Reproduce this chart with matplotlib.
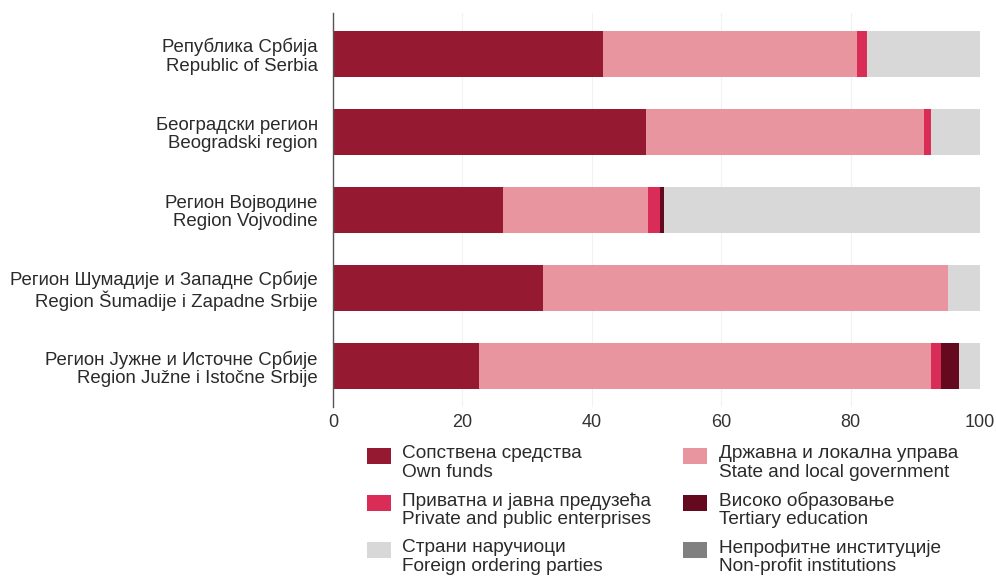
import matplotlib
matplotlib.use("Agg")
import matplotlib.pyplot as plt
from matplotlib.patches import Rectangle
import numpy as np

plt.rcParams['font.family'] = ['Liberation Sans', 'DejaVu Sans']

regions = [
    "Република Србија\nRepublic of Serbia",
    "Београдски регион\nBeogradski region",
    "Регион Војводине\nRegion Vojvodine",
    "Регион Шумадије и Западне Србије\nRegion Šumadije i Zapadne Srbije",
    "Регион Јужне и Источне Србије\nRegion Južne i Istočne Srbije",
]

own_funds = [41.7, 48.3, 26.3, 32.5, 22.6]
state_local = [39.3, 43.1, 22.4, 62.5, 69.8]
private_public = [1.5, 1.0, 1.9, 0.0, 1.5]
tertiary = [0.0, 0.0, 0.5, 0.0, 2.9]
nonprofit = [0.0, 0.0, 0.0, 0.0, 0.0]
foreign = [17.5, 7.6, 48.9, 5.0, 3.2]

series_labels = [
    "Сопствена средства\nOwn funds",
    "Државна и локална управа\nState and local government",
    "Приватна и јавна предузећа\nPrivate and public enterprises",
    "Високо образовање\nTertiary education",
    "Страни наручиоци\nForeign ordering parties",
    "Непрофитне институције\nNon-profit institutions",
]
series_values = [own_funds, state_local, private_public, tertiary, foreign, nonprofit]
colors = ["#951a31", "#e8959f", "#d92d58", "#650a1e", "#d8d8d8", "#808080"]

x_ticks = [0, 20, 40, 60, 80, 100]

W, H = 996, 579
fig = plt.figure(figsize=(W / 100, H / 100), dpi=100)
ax = fig.add_axes([333 / W, 1 - 407 / H, (980 - 333) / W, (407 - 13) / H])

y = np.arange(len(regions))
left = np.zeros(len(regions))
for vals, col in zip(series_values, colors):
    v = np.array(vals)
    ax.barh(y, v, left=left, height=0.59, color=col, edgecolor='none', zorder=2)
    left += v

ax.set_ylim(4.52, -0.52)
ax.set_xlim(0, 100)
ax.set_yticks(y)
ax.set_yticklabels(regions, fontsize=13.4, color="#2a2a2a", linespacing=1.1)
ax.set_xticks(x_ticks)
ax.set_xticklabels([str(t) for t in x_ticks], fontsize=13, color="#333333")
ax.tick_params(axis='y', length=0, pad=11)
ax.tick_params(axis='x', length=0, pad=5)
for s in ['top', 'right', 'bottom']:
    ax.spines[s].set_visible(False)
ax.spines['left'].set_color('#555555')
ax.spines['left'].set_linewidth(1.0)
ax.xaxis.grid(True, color='#f2f2f2', linewidth=0.8, zorder=0)
ax.set_axisbelow(True)

# legend (two columns, column-wise order)
col_x = [(367, 402), (683, 719)]
row_mid = [463, 510, 557]
order = [0, 2, 4, 1, 3, 5]
for k, idx in enumerate(order):
    c, r = divmod(k, 3)
    sx, tx = col_x[c]
    ym = row_mid[r]
    fig.add_artist(Rectangle((sx / W, 1 - (ym + 1) / H), 24 / W, 16 / H,
                             transform=fig.transFigure, facecolor=colors[idx],
                             edgecolor='none'))
    fig.text(tx / W, 1 - ym / H, series_labels[idx], ha='left', va='center',
             fontsize=13.7, color="#2a2a2a", linespacing=1.08)

fig.savefig("out.png", dpi=100)
